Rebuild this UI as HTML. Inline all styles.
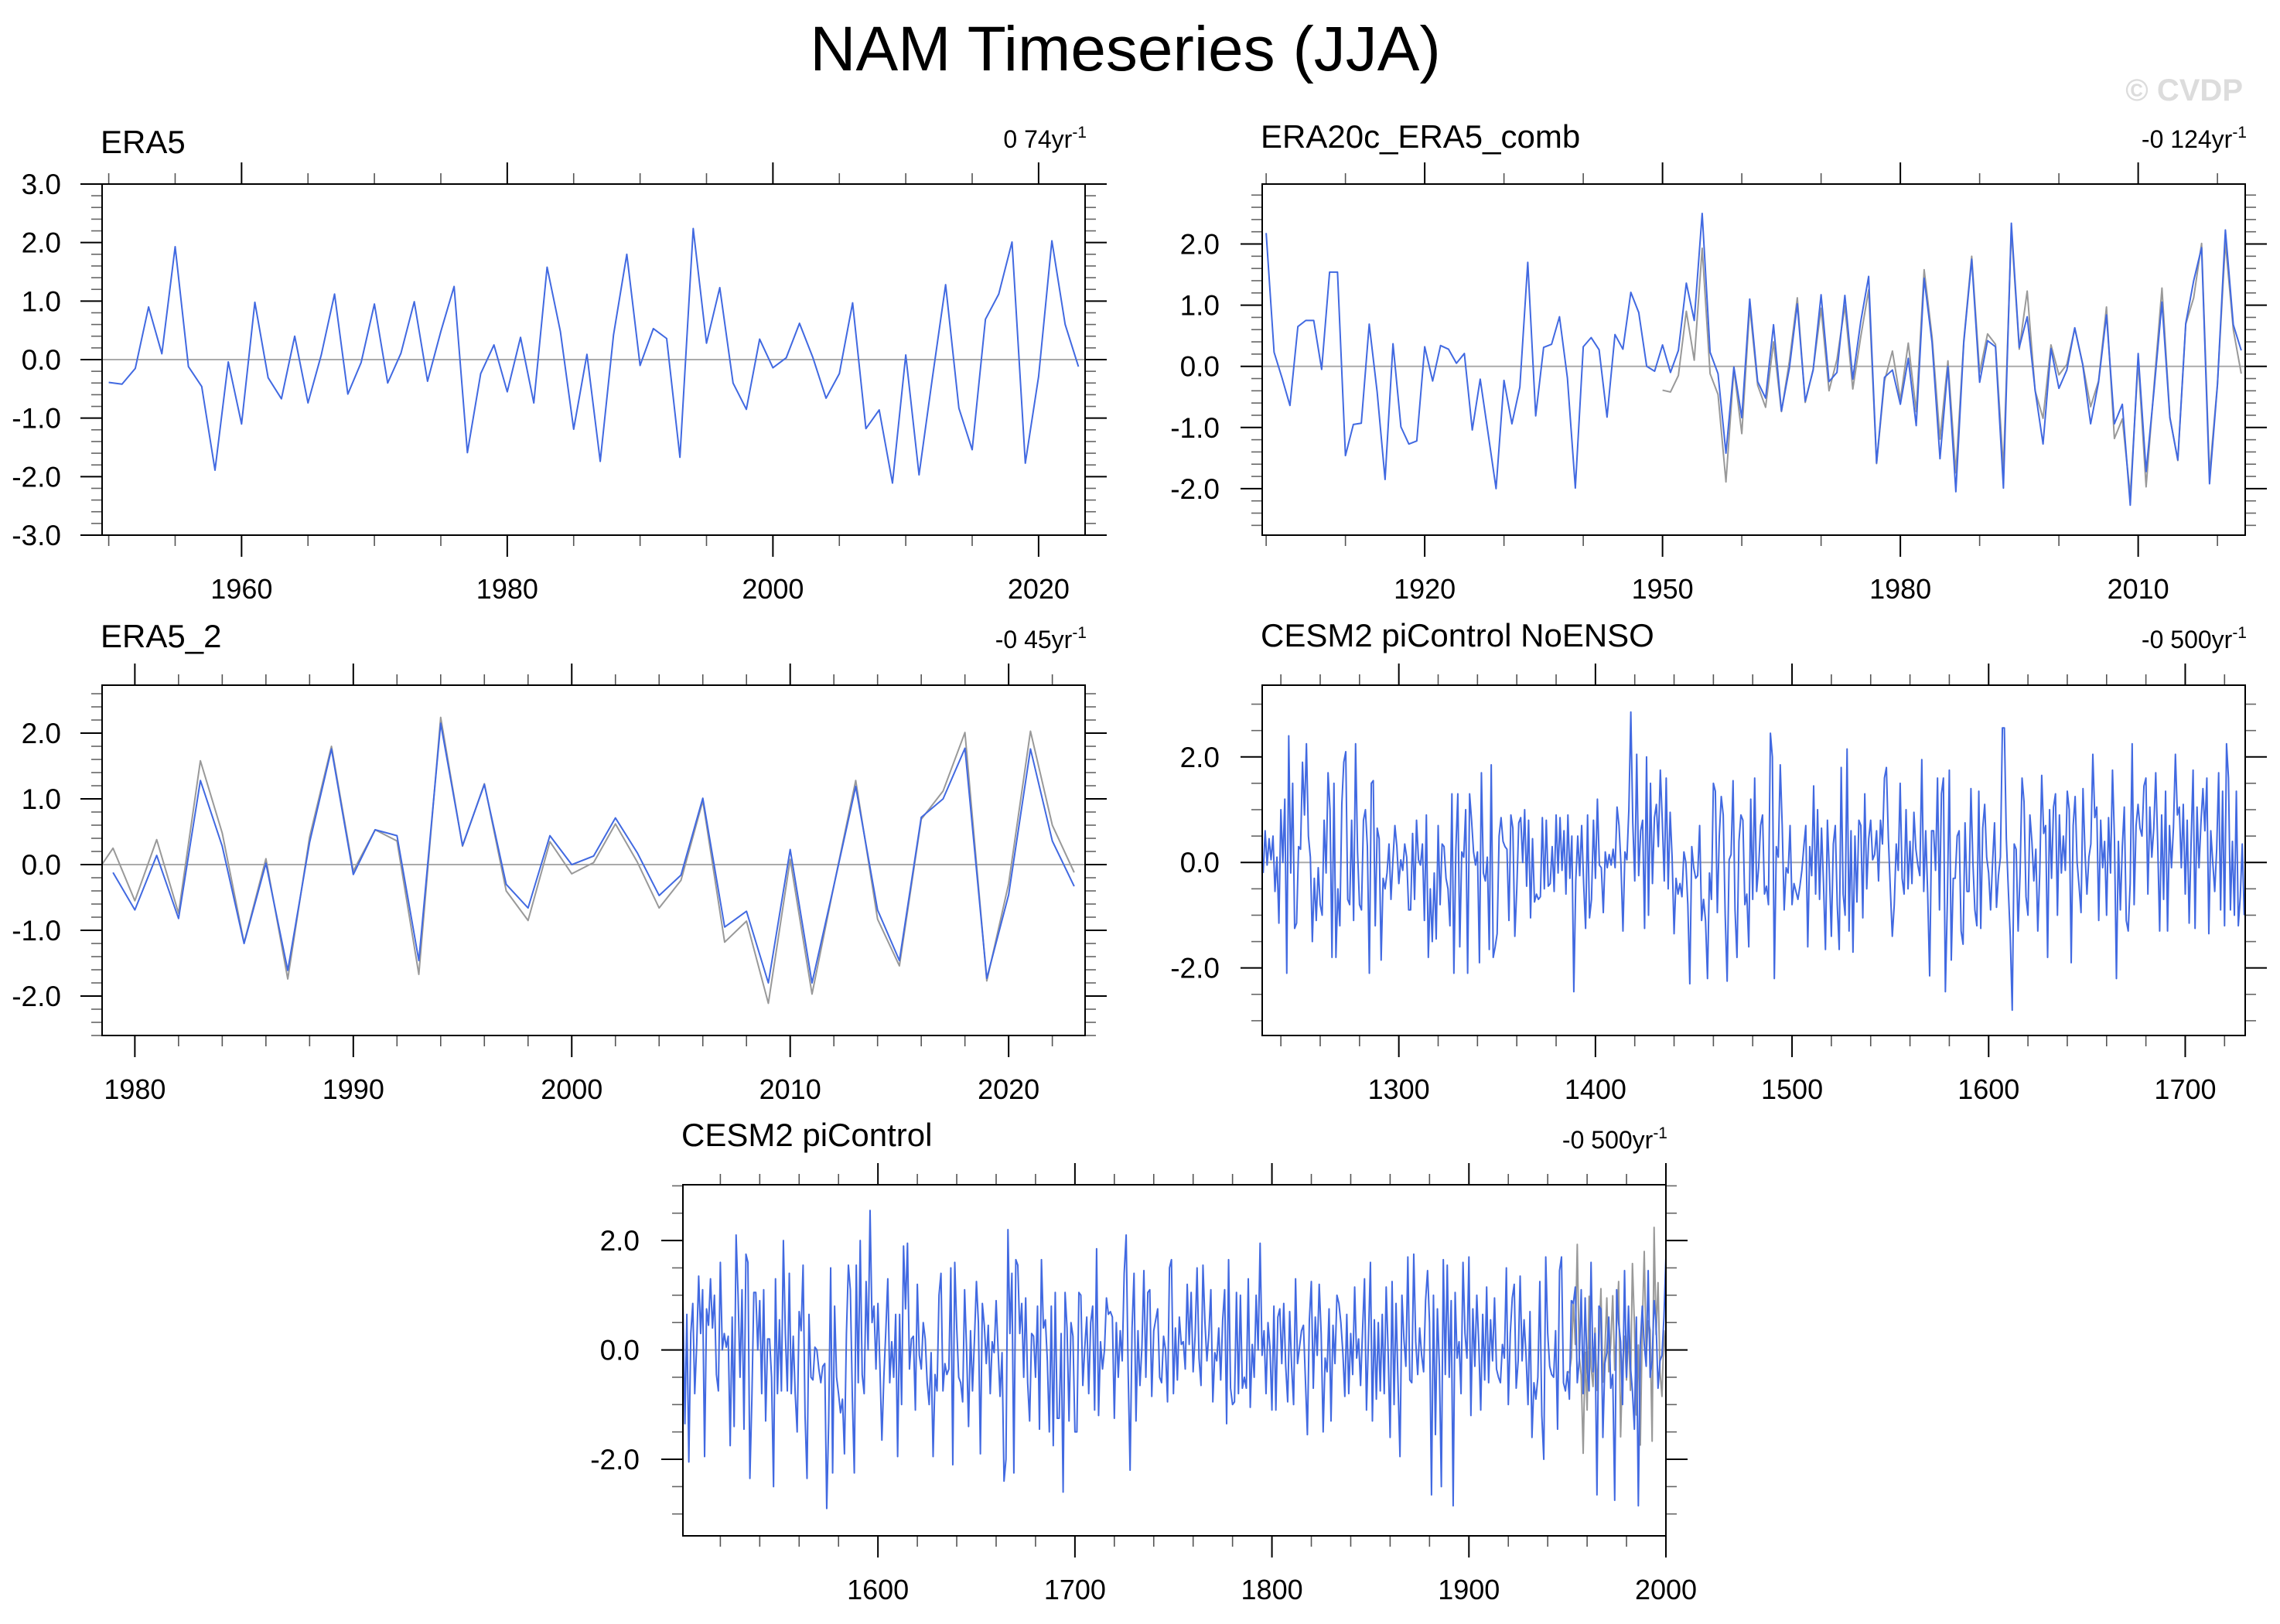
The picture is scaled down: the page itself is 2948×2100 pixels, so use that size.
<!DOCTYPE html>
<html><head><meta charset="utf-8"><title>NAM Timeseries (JJA)</title>
<style>
html,body{margin:0;padding:0;background:#fff;}
svg{display:block;font-family:"Liberation Sans",Arial,sans-serif;}
</style></head>
<body>
<svg id="chart" width="2948" height="2100" viewBox="0 0 2948 2100" xmlns="http://www.w3.org/2000/svg">
<rect width="2948" height="2100" fill="#fff"/>
<text x="1455" y="91" font-size="82" text-anchor="middle" fill="#000">NAM Timeseries (JJA)</text>
<text x="2900" y="130" font-size="40" font-weight="bold" text-anchor="end" fill="#dcdcdc">© CVDP</text>
</svg>
<script>
// ---- data ----
const era5Start = 1950;
const era5Values = [-0.39,-0.42,-0.15,0.90,0.10,1.93,-0.12,-0.46,-1.89,-0.04,
-1.10,0.98,-0.31,-0.67,0.40,-0.74,0.08,1.12,-0.59,-0.05,
0.95,-0.40,0.11,0.99,-0.37,0.48,1.25,-1.59,-0.24,0.25,
-0.55,0.38,-0.74,1.58,0.48,-1.19,0.09,-1.74,0.42,1.80,
-0.10,0.53,0.36,-1.67,2.24,0.28,1.23,-0.40,-0.85,0.35,
-0.14,0.03,0.62,0.04,-0.66,-0.24,0.97,-1.18,-0.86,-2.11,
0.08,-1.97,-0.32,1.28,-0.83,-1.54,0.69,1.12,2.01,-1.77,
-0.29,2.03,0.60,-0.12];

const combStart = 1900;
const combValues = [2.18,0.23,-0.19,-0.64,0.65,0.75,0.75,-0.05,1.54,1.54,
-1.46,-0.95,-0.93,0.69,-0.42,-1.85,0.37,-0.99,-1.27,-1.22,
0.32,-0.24,0.34,0.28,0.05,0.21,-1.04,-0.21,-1.10,-2.00,
-0.23,-0.94,-0.34,1.70,-0.81,0.31,0.36,0.81,-0.19,-1.99,
0.32,0.47,0.27,-0.83,0.52,0.28,1.21,0.88,0.00,-0.08,
0.35,-0.10,0.26,1.36,0.75,2.50,0.23,-0.12,-1.42,-0.01,
-0.84,1.10,-0.25,-0.52,0.68,-0.73,-0.03,1.02,-0.57,-0.06,
1.17,-0.25,-0.10,1.16,-0.21,0.73,1.47,-1.58,-0.18,-0.06,
-0.62,0.13,-0.97,1.44,0.39,-1.51,0.00,-2.05,0.39,1.75,
-0.26,0.42,0.32,-1.99,2.34,0.31,0.81,-0.39,-1.27,0.29,
-0.36,-0.06,0.63,0.03,-0.94,-0.26,0.84,-0.94,-0.62,-2.27,
0.21,-1.72,-0.39,1.05,-0.84,-1.53,0.70,1.40,1.94,-1.92,
-0.30,2.23,0.68,0.26];

const era5bStart = 1979;
const era5bValues = [-0.12,-0.69,0.14,-0.82,1.28,0.28,-1.20,0.02,-1.61,0.34,
1.76,-0.15,0.53,0.44,-1.46,2.15,0.29,1.22,-0.30,-0.66,
0.44,0.00,0.13,0.71,0.18,-0.47,-0.16,1.01,-0.95,-0.71,
-1.80,0.23,-1.80,-0.32,1.19,-0.69,-1.46,0.72,1.00,1.77,
-1.73,-0.46,1.76,0.36,-0.33];

const noensoStart = 1231;
const noensoValues = [
-0.2,0.6,-0.05,0.45,0.05,0.5,-0.55,0.1,-1.15,1.0,
0.0,1.2,-2.1,2.4,-0.2,1.5,-1.25,-1.15,0.3,0.25,
1.9,0.9,2.25,0.5,0.1,-1.5,-0.3,-1.1,-0.1,-0.8,
-1.0,0.8,-0.2,1.7,1.0,-1.8,1.5,-1.8,-0.5,-1.2,
1.1,1.9,2.1,-0.7,-0.8,0.8,-1.1,2.25,0.2,-0.8,
-0.9,0.8,1.0,0.3,-2.1,1.5,1.55,-1.2,0.65,0.45,
-1.85,-0.3,-0.5,-0.2,0.35,-0.7,0.05,0.7,0.3,-0.4,
0.05,-0.15,0.35,0.1,-0.9,-0.9,0.55,-0.7,0.8,0.05,
-0.05,0.35,-1.1,0.9,-1.8,-0.5,-1.5,-0.2,-1.45,0.7,
-0.8,0.35,0.3,-0.3,-0.5,-1.2,1.3,-2.1,0.25,1.3,
-1.6,0.2,0.1,1.0,-2.1,1.3,0.8,0.2,-0.05,0.2,
-1.9,1.7,-0.2,-0.35,0.1,-1.65,1.85,-1.8,-1.6,-1.35,
0.5,0.85,0.4,0.3,0.25,-1.1,0.9,0.65,-1.4,-0.5,
0.75,0.85,0.0,1.0,-0.45,0.8,-1.05,0.45,-0.75,-0.6,
-0.7,-0.65,0.85,-0.5,0.8,-0.45,-0.4,0.3,-0.55,0.9,
-0.2,0.85,-0.15,0.6,-0.6,0.9,-0.3,0.5,-2.45,-0.35,
0.5,-0.25,0.7,-0.4,-1.25,0.9,-1.05,-0.7,0.8,-0.3,
1.2,-0.05,-0.1,-0.95,0.2,-0.1,0.15,-0.05,0.25,-0.1,
1.05,0.7,-0.05,-1.3,0.2,0.05,1.0,2.85,0.75,-0.35,
2.05,-0.25,0.6,0.8,-1.25,2.0,-1.0,1.5,-0.4,0.85,
1.1,0.3,1.75,0.8,-0.35,1.6,-0.5,0.95,0.1,-1.35,
-0.3,-0.6,-0.4,-0.65,0.2,0.0,-0.8,-2.3,0.3,-0.1,
-0.3,-0.25,0.7,-1.1,-0.7,-1.1,-2.2,-0.2,-0.7,1.5,
1.35,-0.95,0.5,1.25,0.9,-1.0,-2.25,0.05,0.15,1.55,
-0.9,-1.8,0.4,0.9,0.8,-0.8,-0.6,-1.6,1.2,-0.7,
1.6,-0.55,-0.1,0.7,0.9,-0.6,-0.45,-0.8,2.45,2.0,
-2.2,0.3,0.1,1.85,0.7,-0.9,-0.1,-0.2,0.7,-0.8,
-0.4,-0.55,-0.7,-0.45,-0.15,0.3,0.7,-1.6,0.3,-0.25,
1.45,-0.6,1.0,-0.7,0.65,-0.4,-1.65,0.8,-0.2,-1.4,
0.35,0.7,-0.8,-1.65,1.8,-0.6,-1.0,2.15,-1.3,0.6,
-1.7,0.5,-0.75,0.8,0.7,-1.05,1.3,-0.5,0.45,0.8,
0.05,0.15,0.6,-0.35,0.8,0.35,1.6,1.8,0.45,-0.5,
-1.4,-0.8,0.35,-0.15,1.5,-0.3,-0.6,1.0,-0.5,0.4,
-0.4,0.95,0.25,-0.05,-0.25,1.95,-0.55,0.6,-0.6,-2.15,
0.6,0.6,-0.15,1.6,-0.9,1.3,1.6,-2.45,-0.75,1.75,
-1.85,-0.3,-0.3,0.5,0.6,-1.3,-1.55,0.75,-0.55,-0.55,
1.4,0.0,-0.9,-1.2,1.35,-1.25,0.65,1.1,0.1,-0.2,
-0.9,0.0,0.75,-0.85,-0.25,0.1,2.55,2.55,0.45,-0.5,
-1.4,-2.8,0.35,0.25,-1.3,-0.2,1.6,1.15,-0.65,-1.0,
0.9,0.4,-0.35,0.25,-1.3,-0.2,1.65,0.55,0.7,-1.8,
1.0,-0.3,1.05,1.3,-1.0,0.9,-0.2,0.5,-0.15,1.35,
1.0,-1.9,0.7,1.25,0.0,-0.45,-0.95,1.4,0.2,-0.6,
0.1,0.35,2.05,0.85,1.05,-1.1,0.8,-0.1,0.4,-1.0,
0.85,-0.2,1.75,0.45,-2.2,0.4,-0.9,0.3,1.05,-1.1,
-1.3,-0.4,2.25,-0.8,0.7,1.1,0.65,0.5,1.45,1.6,
-0.6,1.05,0.1,0.65,1.7,0.35,-1.3,0.9,-0.7,1.35,
-1.3,0.7,-0.1,0.65,2.05,0.9,1.05,-0.1,1.1,-0.6,
0.8,-1.15,0.4,1.75,-1.25,1.05,-0.1,0.75,1.4,0.6,
1.6,-1.35,0.6,0.0,-0.55,0.25,1.7,-0.9,1.35,-1.2,
2.25,1.6,-0.9,0.4,-1.0,1.35,-1.2,-0.65,0.35,-1.0];

const picStart = 1501;
const picValues = [
0.9,-1.35,0.65,-2.05,0.3,0.85,-0.8,0.1,1.35,0.3,
1.1,-1.95,0.75,0.45,1.3,0.4,1.0,-0.45,-0.75,1.6,
0.0,0.3,0.05,0.25,-1.75,0.6,-1.4,2.1,1.0,-0.5,
1.1,-1.45,1.75,1.6,-2.35,-0.9,1.05,1.05,0.0,0.9,
-0.8,1.1,-1.3,0.2,0.2,-0.5,-2.5,1.3,-0.8,0.55,
-0.75,2.0,0.3,-0.75,1.4,-0.8,0.25,-0.8,-1.5,0.7,
0.35,1.55,-1.2,-2.35,0.65,-0.5,-0.55,0.05,0.0,-0.35,
-0.6,-0.3,-0.25,-2.9,-1.3,1.5,-2.25,0.8,-0.5,-0.8,
-1.15,-0.9,-1.9,0.3,1.55,1.1,-0.85,-2.25,1.55,-0.6,
2.0,-0.45,-0.8,1.25,0.0,2.55,0.5,0.8,-0.35,0.85,
-0.3,-1.65,-0.5,0.35,1.3,-0.6,0.15,-0.5,0.65,-1.95,
0.65,-1.0,1.9,0.75,1.95,-0.35,0.2,0.25,-1.1,1.2,
-0.1,-0.35,0.5,0.2,-0.6,-1.0,-0.05,-1.95,-0.45,-0.75,
1.0,1.4,-0.75,-0.25,-0.45,-0.35,1.5,-2.1,1.6,0.4,
-0.5,-0.6,-0.95,1.1,0.0,-1.4,0.35,-0.75,0.2,1.25,
0.5,-1.9,0.85,0.45,-0.25,0.45,-0.8,0.15,-0.05,0.9,
0.0,-0.85,-0.05,-2.4,-2.0,2.2,0.3,1.4,-2.25,1.65,
1.55,0.3,0.85,-0.5,0.95,-0.6,-1.3,0.3,0.25,-0.5,
0.8,-1.45,1.65,0.4,0.55,-0.2,-1.5,0.8,-1.75,1.05,
-1.25,-1.25,0.3,-2.6,1.05,0.4,-1.3,0.5,0.25,-1.5,
-1.5,1.05,1.0,-0.65,0.05,0.6,-0.8,0.5,0.8,-1.1,
1.85,-1.2,0.15,-0.35,0.0,0.95,0.65,0.7,0.6,-1.25,
0.5,-0.5,0.35,-0.2,1.4,2.1,-0.35,-2.2,0.4,1.4,
-1.3,0.35,-0.65,0.05,1.45,-0.5,1.05,1.1,-0.85,0.35,
0.55,0.75,-0.5,-0.6,0.25,0.0,-0.95,1.5,1.65,-0.8,
0.4,-0.55,0.6,0.1,0.15,-0.35,1.2,0.1,1.05,-0.4,
0.25,1.5,-0.15,-0.65,1.55,0.5,-0.2,0.3,1.1,-0.95,
-0.05,-0.2,0.4,-0.55,0.55,1.1,-1.35,1.65,-0.7,-1.0,
-0.95,1.05,-0.8,1.0,-0.7,-0.5,-0.7,1.3,-1.05,0.1,
-0.5,1.0,0.0,1.95,-0.1,0.35,-0.8,0.5,0.05,-1.1,
0.8,-1.1,0.6,0.75,-0.25,0.85,-0.3,-0.95,0.7,-0.3,
-1.0,1.3,-0.25,0.05,0.35,0.45,-0.55,-1.55,0.55,1.25,
-0.7,0.6,-0.1,1.2,0.3,-1.5,-0.15,-0.4,0.75,-1.3,
0.45,-0.25,1.0,0.85,0.5,-0.05,-0.85,0.65,-0.8,0.3,
-0.45,1.15,-0.15,0.2,-0.65,0.35,1.3,-1.1,0.2,1.6,
-1.3,0.55,-0.9,0.5,-0.75,0.65,-0.8,1.15,-0.05,-1.6,
1.25,-1.0,0.85,-0.6,-1.95,1.0,0.2,-0.3,1.7,-0.55,
-0.6,1.75,0.15,-0.45,0.4,-0.1,-0.4,0.9,1.45,0.5,
-2.65,1.0,-1.55,0.75,-0.3,-2.5,1.65,-0.45,1.55,-0.5,
0.9,-2.85,1.05,-0.15,0.15,-0.8,1.6,0.3,-0.15,1.7,
-1.2,0.75,-0.3,1.0,0.1,-1.1,0.65,-0.55,1.15,-0.6,
0.55,-0.2,0.95,-0.35,-0.5,-0.6,0.1,-0.15,1.5,-1.0,
0.3,0.95,1.2,-0.7,-0.2,1.35,-0.2,0.55,-0.1,-1.0,
0.7,-1.6,-0.6,-0.9,-0.5,1.25,-1.2,-2.0,1.7,0.3,
-0.3,-0.45,-0.5,0.35,-1.45,1.45,1.7,-0.6,-0.75,-0.4,
-0.9,0.9,0.85,1.15,-0.6,-0.2,1.1,-0.8,0.95,-0.35,
-0.75,1.6,-0.4,0.3,-2.65,0.8,0.75,-1.6,-0.25,-0.05,
0.6,-0.7,-0.45,-2.75,1.1,0.5,0.15,-1.0,1.45,-0.5,
0.8,-0.3,-0.75,-1.45,0.6,-2.85,0.1,0.8,0.1,-0.3,
1.45,-0.5,-0.2,0.9,0.5,-0.7,-0.2,-0.1,0.6,1.7];

const panelTitles = ["ERA5","ERA20c_ERA5_comb","ERA5_2","CESM2 piControl NoENSO","CESM2 piControl"];
const trendLabels = ["0 74","-0 124","-0 45","-0 500","-0 500"];

// ---- drawing ----
const NS = "http://www.w3.org/2000/svg";
const svg = document.getElementById("chart");
function mk(tag, attrs, parent){
  const e = document.createElementNS(NS, tag);
  for (const k in attrs) e.setAttribute(k, attrs[k]);
  (parent||svg).appendChild(e);
  return e;
}
const BLUE = "#4169e1", GRAY = "#999999";

const panels = [
 {key:"era5", L:132,R:1403,T:238,B:692, x0:1949.5,x1:2023.5, y0:-3,y1:3,
  xMaj:20,xMin:5,xFirst:1960, yMaj:1,yMin:0.2, series:[[era5Start,era5Values,BLUE]],
  titleY:198, trendY:191, labR:79, titleIdx:0},
 {key:"era20c", L:1632,R:2903,T:238,B:692, x0:1899.5,x1:2023.5, y0:-2.76,y1:2.98,
  xMaj:30,xMin:10,xFirst:1920, yMaj:1,yMin:0.2, series:[[era5Start,era5Values,GRAY],[combStart,combValues,BLUE]],
  titleY:191, trendY:191, labR:1577, titleIdx:1},
 {key:"era5-2", L:132,R:1403,T:886,B:1339, x0:1978.5,x1:2023.5, y0:-2.60,y1:2.73,
  xMaj:10,xMin:2,xFirst:1980, yMaj:1,yMin:0.2, series:[[era5Start,era5Values,GRAY],[era5bStart,era5bValues,BLUE]],
  titleY:837, trendY:838, labR:79, titleIdx:2},
 {key:"noenso", L:1632,R:2903,T:886,B:1339, x0:1230.5,x1:1730.5, y0:-3.28,y1:3.36,
  xMaj:100,xMin:20,xFirst:1300, yMaj:2,yMin:0.5, series:[[noensoStart,noensoValues,BLUE]],
  titleY:836, trendY:838, labR:1577, titleIdx:3},
 {key:"picontrol", L:883,R:2154,T:1532,B:1986, x0:1501,x1:2000, y0:-3.40,y1:3.02,
  xMaj:100,xMin:20,xFirst:1600, yMaj:2,yMin:0.5, series:[[era5Start,era5Values,GRAY],[picStart,picValues,BLUE]],
  titleY:1482, trendY:1485, labR:827, titleIdx:4}
];

const EPS = 1e-6;
panels.forEach(function(p, pi){
  const g = mk("g", {});
  
  
  const xs = v => p.L + (v - p.x0) / (p.x1 - p.x0) * (p.R - p.L);
  const ys = v => p.B - (v - p.y0) / (p.y1 - p.y0) * (p.B - p.T);

  const clipId = "clip" + pi;
  const cp = mk("clipPath", {id: clipId}, g);
  mk("rect", {x:p.L, y:p.T, width:p.R-p.L, height:p.B-p.T}, cp);

  const xStartMin = Math.ceil((p.x0 - EPS) / p.xMin) * p.xMin;
  for (let v = xStartMin; v <= p.x1 + EPS; v += p.xMin) {
    const X = xs(v);
    const isMaj = Math.abs(((v - p.xFirst) % p.xMaj + p.xMaj) % p.xMaj) < EPS;
    const len = isMaj ? 28 : 14;
    const col = isMaj ? "#000" : "#555";
    const t1 = mk("line", {x1:X, x2:X, y1:p.T, y2:p.T-len, stroke:col, "stroke-width":isMaj?2:1.6}, g);
    
    
    const t2 = mk("line", {x1:X, x2:X, y1:p.B, y2:p.B+len, stroke:col, "stroke-width":isMaj?2:1.6}, g);
    
    
    if (isMaj) {
      const lab = mk("text", {x:X, y:p.B+82, "font-size":36, "text-anchor":"middle", fill:"#000"}, g);
      lab.textContent = String(Math.round(v));
      
      
    }
  }
  const yStartMin = Math.ceil((p.y0 - EPS) / p.yMin) * p.yMin;
  for (let v = yStartMin; v <= p.y1 + EPS; v += p.yMin) {
    const vv = Math.round(v * 100) / 100;
    if (vv > p.y1 + EPS) break;
    const Y = ys(vv);
    const isMaj = Math.abs(vv / p.yMaj - Math.round(vv / p.yMaj)) < 1e-4;
    const len = isMaj ? 28 : 14;
    const col = isMaj ? "#000" : "#666";
    const a = mk("line", {x1:p.L, x2:p.L-len, y1:Y, y2:Y, stroke:col, "stroke-width":isMaj?2:1.6}, g);
    
    
    const b = mk("line", {x1:p.R, x2:p.R+len, y1:Y, y2:Y, stroke:col, "stroke-width":isMaj?2:1.6}, g);
    
    
    if (isMaj) {
      const lab = mk("text", {x:p.labR, y:Y+13, "font-size":37, "text-anchor":"end", fill:"#000"}, g);
      lab.textContent = vv.toFixed(1);
      
      
    }
  }
  const z = mk("line", {x1:p.L, x2:p.R, y1:ys(0), y2:ys(0), stroke:"#aaaaaa", "stroke-width":2}, g);
  
  

  p.series.forEach(function(s){
    const start = s[0], vals = s[1], col = s[2];
    let d = "";
    vals.forEach(function(v, i){
      d += (i ? "L" : "M") + xs(start + i).toFixed(2) + " " + ys(v).toFixed(2);
    });
    const path = mk("path", {d:d, fill:"none", stroke:col, "stroke-width":2, "stroke-linejoin":"round", "clip-path":"url(#"+clipId+")"}, g);
    
    
  });

  const fr = mk("rect", {x:p.L, y:p.T, width:p.R-p.L, height:p.B-p.T, fill:"none", stroke:"#000", "stroke-width":2}, g);
  
  

  const tt = mk("text", {x:p.L-2, y:p.titleY, "font-size":42, fill:"#000"}, g);
  tt.textContent = panelTitles[p.titleIdx];
  
  

  const tr = mk("text", {x:p.R+2, y:p.trendY, "font-size":32, "text-anchor":"end", fill:"#000"}, g);
  
  
  const ts1 = mk("tspan", {}, tr);
  ts1.textContent = trendLabels[p.titleIdx] + "yr";
  const ts2 = mk("tspan", {dy:-13, "font-size":21}, tr);
  ts2.textContent = "-1";
});
</script>
</body></html>
